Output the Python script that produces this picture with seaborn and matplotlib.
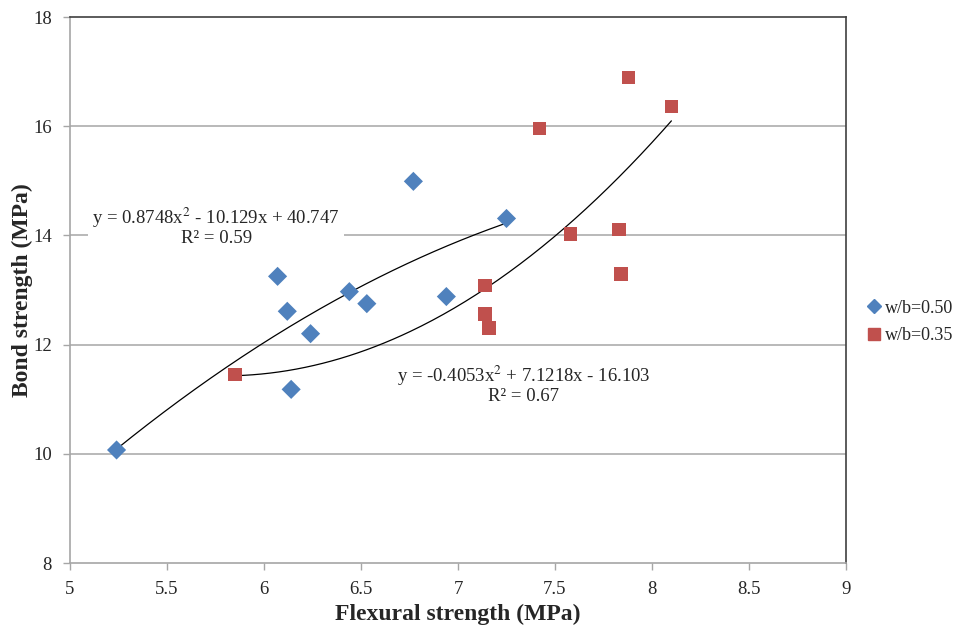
import numpy as np
import pandas as pd
import matplotlib
matplotlib.use('Agg')
import matplotlib.pyplot as plt
import seaborn as sns

# data
x_050 = [5.24, 6.07, 6.12, 6.14, 6.24, 6.44, 6.53, 6.77, 6.94, 7.25]
y_050 = [10.07, 13.25, 12.61, 11.18, 12.20, 12.97, 12.75, 14.99, 12.88, 14.31]
x_035 = [5.85, 7.14, 7.14, 7.16, 7.42, 7.58, 7.83, 7.84, 7.88, 8.10]
y_035 = [11.45, 13.08, 12.56, 12.30, 15.96, 14.03, 14.11, 13.29, 16.89, 16.36]

# polynomial trendline coefficients (a, b, c) from the chart labels
coef_050 = [-0.4053, 7.1218, -16.103]
coef_035 = [0.8748, -10.129, 40.747]

x_ticks = [5, 5.5, 6, 6.5, 7, 7.5, 8, 8.5, 9]
x_tick_labels = ['5', '5.5', '6', '6.5', '7', '7.5', '8', '8.5', '9']
y_ticks = [8, 10, 12, 14, 16, 18]

df = pd.DataFrame({
    'flex': x_050 + x_035,
    'bond': y_050 + y_035,
    'series': ['w/b=0.50'] * len(x_050) + ['w/b=0.35'] * len(x_035),
})

sns.set_style('white')
plt.rcParams['font.family'] = ['Liberation Serif', 'DejaVu Serif']
plt.rcParams['mathtext.fontset'] = 'stix'

fig = plt.figure(figsize=(9.66, 6.33), dpi=100)
ax = fig.add_axes([70 / 966, 1 - 563 / 633, 776 / 966, 546 / 633])

grid_c = '#a6a6a6'
for yv in y_ticks[1:-1]:
    ax.axhline(yv, color=grid_c, lw=1.1, zorder=0)

# trendlines
for xs, coef in [(x_050, coef_050), (x_035, coef_035)]:
    xx = np.linspace(min(xs), max(xs), 200)
    ax.plot(xx, np.polyval(coef, xx), color='black', lw=0.9, zorder=2)

sns.scatterplot(data=df, x='flex', y='bond', hue='series', style='series',
                palette={'w/b=0.50': '#4f81bd', 'w/b=0.35': '#c0504d'},
                markers={'w/b=0.50': 'D', 'w/b=0.35': 's'},
                s=95, edgecolor='none', ax=ax, zorder=3, legend=False)

ax.set_xlim(5, 9)
ax.set_ylim(8, 18)
ax.set_xticks(x_ticks)
ax.set_xticklabels(x_tick_labels)
ax.set_yticks(y_ticks)
ax.tick_params(axis='both', labelsize=13.5, length=5, width=1, color=grid_c,
               direction='out', bottom=True, left=True, pad=8)

for side in ['left', 'bottom']:
    ax.spines[side].set_color(grid_c)
    ax.spines[side].set_linewidth(1.2)
for side in ['top', 'right']:
    ax.spines[side].set_color('#404040')
    ax.spines[side].set_linewidth(1.2)

ax.set_xlabel('Flexural strength (MPa)', fontsize=17, fontweight='bold', labelpad=4)
ax.set_ylabel('Bond strength (MPa)', fontsize=17, fontweight='bold', labelpad=0)

# equation labels (white boxes over the gridlines)
box = dict(facecolor='white', edgecolor='none', pad=3)
ax.text(5.753, 14.17, 'y = 0.8748x$^2$ - 10.129x + 40.747\nR² = 0.59',
        ha='center', va='center', fontsize=13.5, linespacing=1.0, bbox=box, zorder=4)
ax.text(7.34, 11.27, 'y = -0.4053x$^2$ + 7.1218x - 16.103\nR² = 0.67',
        ha='center', va='center', fontsize=13.5, linespacing=1.0, bbox=box, zorder=4)

# legend to the right of the plot
handles = [
    plt.Line2D([], [], marker='D', color='#4f81bd', ls='none', markersize=7),
    plt.Line2D([], [], marker='s', color='#c0504d', ls='none', markersize=8),
]
fig.legend(handles, ['w/b=0.50', 'w/b=0.35'], loc='center left',
           bbox_to_anchor=(849 / 966, 1 - 322 / 633), frameon=False,
           fontsize=13, handletextpad=0.1, handlelength=1.0, labelspacing=0.6)

fig.savefig('out.png', dpi=100)
